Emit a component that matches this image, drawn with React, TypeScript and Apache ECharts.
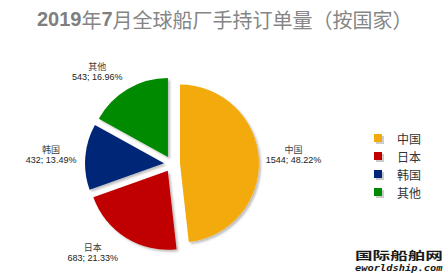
import React, { useEffect, useRef } from "react";
import * as echarts from "echarts";

const categories = ["中国", "日本", "韩国", "其他"];
const values = [1544, 683, 432, 543];
const colors = ["#F3AA10", "#C00000", "#002678", "#008A00"];
const titleParts = ["2019", "年", "7", "月全球船厂手持订单量（按国家）"];

// label nudges (px) relative to the library's outside-label placement
const labelDX = [-21, 7, 19, 9];
const labelDY = [-3, -9, 0, 7];

export default function App() {
  const ref = useRef<HTMLDivElement>(null);
  useEffect(() => {
    if (!ref.current) return;
    const chart = echarts.init(ref.current, undefined, { renderer: "svg" });
    const option = {
      animation: false,
      backgroundColor: "#ffffff",
      title: {
        text: `{d|${titleParts[0]}}{c|${titleParts[1]}}{d|${titleParts[2]}}{c|${titleParts[3]}}`,
        left: 32,
        top: 4,
        textStyle: {
          fontWeight: "normal",
          rich: {
            d: { fontSize: 20, fontWeight: "bold", fontFamily: "Liberation Sans", color: "#7f7f7f" },
            c: { fontSize: 20, fontWeight: "normal", fontFamily: "Noto Sans CJK SC", color: "#858585" },
          },
        },
      },
      legend: {
        orient: "vertical",
        left: 369,
        top: 127,
        itemWidth: 8,
        itemHeight: 8,
        itemGap: 6,
        icon: "rect",
        selectedMode: false,
        data: categories,
        itemStyle: {
          shadowBlur: 1,
          shadowOffsetX: 2,
          shadowOffsetY: 2,
          shadowColor: "rgba(0,0,0,0.2)",
        },
        textStyle: {
          fontSize: 12,
          fontFamily: "Noto Sans CJK SC",
          color: "#333333",
          padding: [0, 0, 0, 10],
        },
      },
      series: [
        {
          type: "pie",
          center: [172, 164],
          radius: 79,
          startAngle: 90,
          selectedMode: "multiple",
          selectedOffset: 8,
          avoidLabelOverlap: false,
          emphasis: { disabled: true },
          itemStyle: {
            shadowBlur: 2,
            shadowOffsetX: 2,
            shadowOffsetY: 2,
            shadowColor: "rgba(0,0,0,0.25)",
          },
          label: {
            show: true,
            position: "outside",
            distanceToLabelLine: 0,
            formatter: (p: any) => `{n|${p.name}}\n{v|${p.value}; ${p.percent.toFixed(2)}%}`,
            rich: {
              n: { fontSize: 9, align: "center", fontFamily: "Noto Sans CJK SC", color: "#404040", lineHeight: 10 },
              v: { fontSize: 9, align: "center", fontFamily: "Liberation Sans", color: "#222222", lineHeight: 10 },
            },
          },
          labelLine: { show: false, length: 28, length2: 0 },
          labelLayout: (params: any) => ({
            dx: labelDX[params.dataIndex],
            dy: labelDY[params.dataIndex],
          }),
          data: categories.map((name, i) => ({
            name,
            value: values[i],
            selected: true,
            itemStyle: { color: colors[i] },
          })),
        },
      ],
      graphic: [
        {
          type: "text",
          left: 355,
          top: 250,
          style: {
            text: "国际船舶网",
            fontSize: 11,
            fontWeight: "bold",
            fontFamily: "Noto Sans CJK SC",
            fill: "#1a1a1a",
          },
          scaleX: 1.6,
        },
        {
          type: "text",
          left: 355,
          top: 264,
          style: {
            text: "eworldship.com",
            fontSize: 8,
            fontWeight: "bold",
            fontStyle: "italic",
            fontFamily: "DejaVu Sans Mono",
            fill: "#1a1a1a",
          },
          scaleX: 1.3,
        },
      ],
    };
    chart.setOption(option as any);
    return () => chart.dispose();
  }, []);
  return (
    <div
      ref={ref}
      style={{ position: "absolute", left: 0, top: 0, width: 448, height: 273 }}
    />
  );
}
